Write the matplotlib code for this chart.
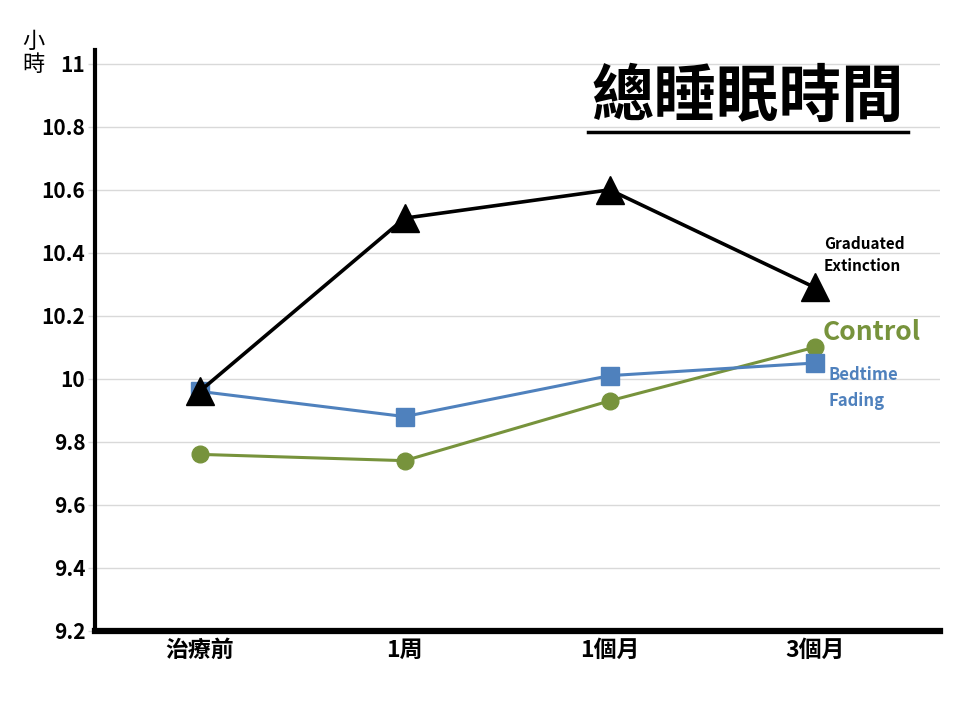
import matplotlib
matplotlib.use("Agg")
import matplotlib.pyplot as plt
from matplotlib.lines import Line2D

plt.rcParams['font.family'] = ['Noto Sans CJK TC', 'DejaVu Sans']

# 數據
categories = ["治療前", "1周", "1個月", "3個月"]
control = [9.76, 9.74, 9.93, 10.10]
bedtime_fading = [9.96, 9.88, 10.01, 10.05]
graduated_extinction = [9.96, 10.51, 10.60, 10.29]
yticks = [9.2, 9.4, 9.6, 9.8, 10, 10.2, 10.4, 10.6, 10.8, 11]
ytick_labels = ["9.2", "9.4", "9.6", "9.8", "10", "10.2", "10.4", "10.6", "10.8", "11"]

fig = plt.figure(figsize=(9.6, 7.2), dpi=100)
ax = fig.add_axes([0.099, 0.124, 0.88, 0.807])

x = list(range(len(categories)))
ax.plot(x, control, color="#77933C", lw=2.2, marker="o", ms=12, zorder=3)
ax.plot(x, bedtime_fading, color="#4F81BD", lw=2.2, marker="s", ms=13, zorder=4)
ax.plot(x, graduated_extinction, color="black", lw=2.6, marker="^", ms=20, zorder=5)

ax.set_xlim(-0.51, 3.61)
ax.set_ylim(9.2, 11.045)
ax.set_yticks(yticks)
ax.set_yticklabels(ytick_labels, fontsize=15, fontweight="bold")
ax.set_xticks(x)
ax.set_xticklabels(categories, fontsize=16.5, fontweight="bold")
ax.tick_params(axis="y", length=5, width=1, color="#d9d9d9", pad=2)
ax.tick_params(axis="x", length=0, pad=6)
ax.grid(axis="y", color="#d9d9d9", lw=1)
ax.set_axisbelow(True)

for s in ["top", "right"]:
    ax.spines[s].set_visible(False)
ax.spines["left"].set_linewidth(3)
ax.spines["bottom"].set_linewidth(4.5)

# 標題
fig.text(748 / 960, 1 - 97 / 720, "總睡眠時間", fontsize=45, fontweight="bold",
         ha="center", va="center")
fig.add_artist(Line2D([588 / 960, 908 / 960], [1 - 132 / 720, 1 - 132 / 720],
                      color="black", lw=2.5, transform=fig.transFigure))

# 單位
fig.text(33 / 960, 1 - 53 / 720, "小\n時", fontsize=16, ha="center", va="center",
         linespacing=1.05)

# 系列標籤
fig.text(824 / 960, 1 - 255 / 720, "Graduated\nExtinction", fontsize=11,
         fontweight="bold", color="black", ha="left", va="center", linespacing=1.5)
fig.text(823 / 960, 1 - 333 / 720, "Control", fontsize=19, fontweight="bold",
         color="#77933C", ha="left", va="center")
fig.text(829 / 960, 1 - 388 / 720, "Bedtime\nFading", fontsize=12,
         fontweight="bold", color="#4F81BD", ha="left", va="center", linespacing=1.5)

fig.savefig("out.png", dpi=100)
